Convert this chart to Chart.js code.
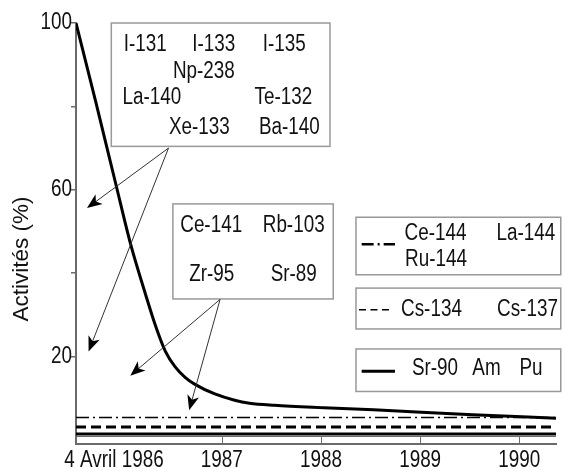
<!DOCTYPE html>
<html>
<head>
<meta charset="utf-8">
<script src="https://cdn.jsdelivr.net/npm/chart.js@4.4.0/dist/chart.umd.min.js"></script>
<style>
  html, body { margin: 0; padding: 0; background: #fff; }
  #wrap { width: 564px; height: 471px; }
</style>
</head>
<body>
<div id="wrap"><canvas id="chart"></canvas></div>
<script>
// x unit = one year; the first interval (4 Avril 1986 -> 1987) is drawn wider, as in the figure
const xTickValues = [0, 1.47, 2.47, 3.47, 4.47];
const xTickLabels = ['4 Avril 1986', '1987', '1988', '1989', '1990'];
const xMax = 4.84;
const yTickValues = [20, 40, 60, 80, 100];
const yTickLabels = ['20', '', '60', '', '100'];

// short-lived nuclides (total activity, %)
const curveX = [0, 0.2, 0.4, 0.55, 0.7, 0.8, 0.9, 1.0, 1.1, 1.2, 1.4, 1.6, 1.75, 2.0, 2.5, 3.0, 4.0, 4.84];
const curveY = [100, 81, 61.5, 47, 35, 27.5, 21.3, 17.5, 15, 13.3, 11.0, 9.5, 8.8, 8.3, 7.7, 7.2, 6.0, 5.2];

// long-lived groups, flat levels (%)
const level144 = 5.35;
const levelCs = 3.05;
const levelSr = 1.4;

const shortLabels = ['I-131', 'I-133', 'I-135', 'Np-238', 'La-140', 'Te-132', 'Xe-133', 'Ba-140'];
const midLabels = ['Ce-141', 'Rb-103', 'Zr-95', 'Sr-89'];
const labels144 = ['Ce-144', 'La-144', 'Ru-144'];
const labelsCs = ['Cs-134', 'Cs-137'];
const labelsSr = ['Sr-90', 'Am', 'Pu'];

const FONT = "'Liberation Sans', Arial, sans-serif";
const SIZE = 23;
const NARROW = 0.82;   // condensed look of the original lettering
const INK = '#111';
const AXIS = '#6a6a6a';

// annotation layout: boxes in data units, text offsets in px from box top-left
const notes = [
  { box: [0.356, 100, 2.561, 70.4], labels: shortLabels,
    at: [[34, 21.7], [102.5, 21.7], [173, 21.7], [92.5, 48.4], [40.5, 74.4], [172, 74.4], [88, 104.7], [178, 104.7]],
    from: [0.933, 70.0], to: [[0.111, 55.6], [0.127, 21.2]] },
  { box: [0.977, 56.6, 2.594, 33.8], labels: midLabels,
    at: [[38.3, 22], [120.8, 22], [38.8, 71], [120.8, 71]],
    from: [1.453, 33.7], to: [[0.547, 15.4], [1.141, 7.1]] }
];
const keys = [
  { box: [2.823, 53.4, 4.888, 39.6], labels: labels144, at: [[79.5, 16], [170, 16], [80, 42.7]],
    sym: [5.7, 39, 27], dash: [12, 4, 2, 4], width: 2.5 },
  { box: [2.823, 36.4, 4.888, 26.6], labels: labelsCs, at: [[75.5, 21.7], [171.5, 21.7]],
    sym: [3, 37, 21.7], dash: [7, 4.5], width: 1.5 },
  { box: [2.823, 21.8, 4.888, 11.6], labels: labelsSr, at: [[79, 20], [130.5, 20], [175, 20]],
    sym: [5.7, 39, 22.4], dash: [], width: 3 }
];
const xLabelShift = [38, 0, 0, 0, 0];

function flat(level) {
  return [{ x: 0, y: level }, { x: xMax, y: level }];
}

function label(ctx, str, x, y, align) {
  ctx.save();
  ctx.translate(x, y);
  ctx.scale(NARROW, 1);
  ctx.font = `${SIZE}px ${FONT}`;
  ctx.fillStyle = INK;
  ctx.textAlign = align || 'center';
  ctx.textBaseline = 'middle';
  ctx.fillText(str, 0, 0);
  ctx.restore();
}

function arrow(ctx, x1, y1, x2, y2) {
  const a = Math.atan2(y2 - y1, x2 - x1);
  ctx.strokeStyle = '#333';
  ctx.lineWidth = 1;
  ctx.beginPath();
  ctx.moveTo(x1, y1);
  ctx.lineTo(x2 - 10 * Math.cos(a), y2 - 10 * Math.sin(a));
  ctx.stroke();
  ctx.save();
  ctx.translate(x2, y2);
  ctx.rotate(a);
  ctx.fillStyle = '#000';
  ctx.beginPath();
  ctx.moveTo(0, 0);
  ctx.lineTo(-15, -6);
  ctx.lineTo(-11, 0);
  ctx.lineTo(-15, 6);
  ctx.closePath();
  ctx.fill();
  ctx.restore();
}

function drawBox(ctx, xs, ys, b) {
  const l = xs.getPixelForValue(b[0]), t = ys.getPixelForValue(b[1]);
  const r = xs.getPixelForValue(b[2]), btm = ys.getPixelForValue(b[3]);
  ctx.fillStyle = '#fff';
  ctx.fillRect(l, t, r - l, btm - t);
  ctx.strokeStyle = '#999';
  ctx.lineWidth = 1.5;
  ctx.strokeRect(l, t, r - l, btm - t);
  return [l, t];
}

const decor = {
  id: 'decor',
  afterDraw(chart) {
    const ctx = chart.ctx;
    const xs = chart.scales.x, ys = chart.scales.y;
    const area = chart.chartArea;
    ctx.save();

    // ruler-style x axis: inner ticks and upper line
    ctx.strokeStyle = AXIS;
    ctx.lineWidth = 1;
    ctx.beginPath();
    ctx.moveTo(area.left, area.bottom - 7.5);
    ctx.lineTo(area.right, area.bottom - 7.5);
    xTickValues.forEach((v, i) => {
      if (i === 0) return;
      const px = Math.round(xs.getPixelForValue(v)) + 0.5;
      ctx.moveTo(px, area.bottom);
      ctx.lineTo(px, area.bottom - 7.5);
    });
    ctx.stroke();

    xTickLabels.forEach((lab, i) => {
      label(ctx, lab, xs.getPixelForValue(xTickValues[i]) + xLabelShift[i], area.bottom + 17);
    });
    yTickLabels.forEach((lab, i) => {
      if (lab) label(ctx, lab, area.left - 4, ys.getPixelForValue(yTickValues[i]), 'right');
    });

    // y axis title
    ctx.save();
    ctx.translate(22, 259);
    ctx.rotate(-Math.PI / 2);
    ctx.font = `22.5px ${FONT}`;
    ctx.fillStyle = INK;
    ctx.textAlign = 'center';
    ctx.textBaseline = 'middle';
    ctx.fillText('Activités (%)', 0, 0);
    ctx.restore();

    // nuclide boxes with arrows
    notes.forEach(n => {
      const [l, t] = drawBox(ctx, xs, ys, n.box);
      n.labels.forEach((lab, i) => label(ctx, lab, l + n.at[i][0], t + n.at[i][1]));
      const fx = xs.getPixelForValue(n.from[0]), fy = ys.getPixelForValue(n.from[1]);
      n.to.forEach(p => arrow(ctx, fx, fy, xs.getPixelForValue(p[0]), ys.getPixelForValue(p[1])));
    });

    // legend boxes
    keys.forEach(k => {
      const [l, t] = drawBox(ctx, xs, ys, k.box);
      ctx.strokeStyle = '#000';
      ctx.lineWidth = k.width;
      ctx.setLineDash(k.dash);
      ctx.beginPath();
      ctx.moveTo(l + k.sym[0], t + k.sym[2]);
      ctx.lineTo(l + k.sym[1], t + k.sym[2]);
      ctx.stroke();
      ctx.setLineDash([]);
      k.labels.forEach((lab, i) => label(ctx, lab, l + k.at[i][0], t + k.at[i][1]));
    });
    ctx.restore();
  }
};

new Chart(document.getElementById('chart'), {
  type: 'line',
  data: {
    datasets: [
      {
        label: shortLabels.concat(midLabels).join(' '),
        data: curveX.map((x, i) => ({ x, y: curveY[i] })),
        borderColor: '#000',
        borderWidth: 3,
        cubicInterpolationMode: 'monotone',
        pointRadius: 0
      },
      {
        label: labels144.join(' '),
        data: flat(level144),
        borderColor: '#000',
        borderWidth: 1.5,
        borderDash: [13, 4, 2, 4],
        pointRadius: 0
      },
      {
        label: labelsCs.join(' '),
        data: flat(levelCs),
        borderColor: '#000',
        borderWidth: 3,
        borderDash: [10, 5],
        pointRadius: 0
      },
      {
        label: labelsSr.join(' '),
        data: flat(levelSr),
        borderColor: '#000',
        borderWidth: 3,
        pointRadius: 0
      }
    ]
  },
  options: {
    responsive: true,
    maintainAspectRatio: false,
    animation: false,
    layout: { padding: { top: 23, right: 8, left: 0, bottom: 0 } },
    plugins: { legend: { display: false }, tooltip: { enabled: false } },
    scales: {
      x: {
        type: 'linear',
        min: 0,
        max: xMax,
        ticks: { display: false },
        grid: { display: false },
        border: { display: true, color: AXIS, width: 2 },
        afterFit: s => { s.height = 27; }
      },
      y: {
        min: -1,
        max: 100,
        afterBuildTicks: s => { s.ticks = yTickValues.map(v => ({ value: v })); },
        ticks: { display: false },
        grid: { drawOnChartArea: false, tickLength: 5, color: AXIS, lineWidth: 1.5 },
        border: { color: AXIS, width: 2 },
        afterFit: s => { s.width = 76; }
      }
    }
  },
  plugins: [decor]
});
</script>
</body>
</html>
